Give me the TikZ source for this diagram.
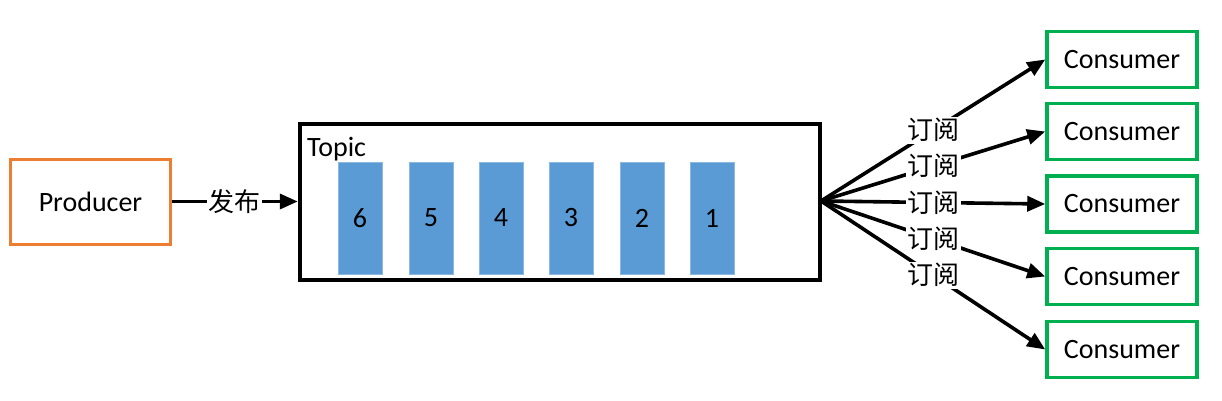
\documentclass[tikz,border=0pt]{standalone}
\usepackage{fontspec}
\setmainfont{Carlito}
\newfontfamily\cjk{Noto Sans CJK SC}
\usetikzlibrary{arrows.meta}
\definecolor{prodorange}{HTML}{ED7D31}
\definecolor{consgreen}{HTML}{00B050}
\definecolor{barblue}{HTML}{5B9BD5}
\begin{document}
\begin{tikzpicture}[x=1pt,y=-1pt,
  every node/.style={font=\fontsize{28}{32}\selectfont, inner sep=0pt},
  prodbox/.style={draw=prodorange, line width=3pt, fill=white, minimum width=160pt, minimum height=85pt},
  topicbox/.style={draw=black, line width=4.5pt, minimum width=520pt, minimum height=156pt},
  barbox/.style={fill=barblue, draw=barblue!70!white, line width=0.6pt, minimum width=44pt, minimum height=112pt},
  consbox/.style={draw=consgreen, line width=3.5pt, minimum width=150pt, minimum height=56pt},
  arr/.style={line width=3.6pt, -{Triangle[length=18pt,width=15pt]}},
  lbl/.style={font=\cjk\fontsize{26}{30}\selectfont, fill=white, inner sep=1.5pt}]
\useasboundingbox (0,0) rectangle (1222,401);
\node[prodbox] (prod) at (90.5,201.5) {Producer};
\node[topicbox] (topic) at (560,202) {};
\node[anchor=base west] (topiclbl) at (307,156) {Topic};
\node[barbox] (b6) at (360,218) {6};
\node[barbox] (b5) at (431,218) {5};
\node[barbox] (b4) at (501,218) {4};
\node[barbox] (b3) at (571,218) {3};
\node[barbox] (b2) at (642,218) {2};
\node[barbox] (b1) at (712,218) {1};
\node[consbox] (c1) at (1122,59.5) {Consumer};
\node[consbox] (c2) at (1122,131.5) {Consumer};
\node[consbox] (c3) at (1122,204) {Consumer};
\node[consbox] (c4) at (1122,276.5) {Consumer};
\node[consbox] (c5) at (1122,349.5) {Consumer};
\coordinate (fan) at (821,201);
\draw[arr] (prod.east) -- (topic.west |- prod.east);
\draw[arr] (fan) -- (c1.west);
\draw[arr] (fan) -- (c2.west);
\draw[arr] (fan) -- (c3.west);
\draw[arr] (fan) -- (c4.west);
\draw[arr] (fan) -- (c5.west);
\path (prod.east) -- (topic.west |- prod.east) node[lbl, pos=0.5] (pub) {发布};
\path (fan) -- (c1.west) node[lbl, pos=0.5] (s1) {订阅};
\path (fan) -- (c2.west) node[lbl, pos=0.5] (s2) {订阅};
\path (fan) -- (c3.west) node[lbl, pos=0.5] (s3) {订阅};
\path (fan) -- (c4.west) node[lbl, pos=0.5] (s4) {订阅};
\path (fan) -- (c5.west) node[lbl, pos=0.5] (s5) {订阅};
\end{tikzpicture}
\end{document}
